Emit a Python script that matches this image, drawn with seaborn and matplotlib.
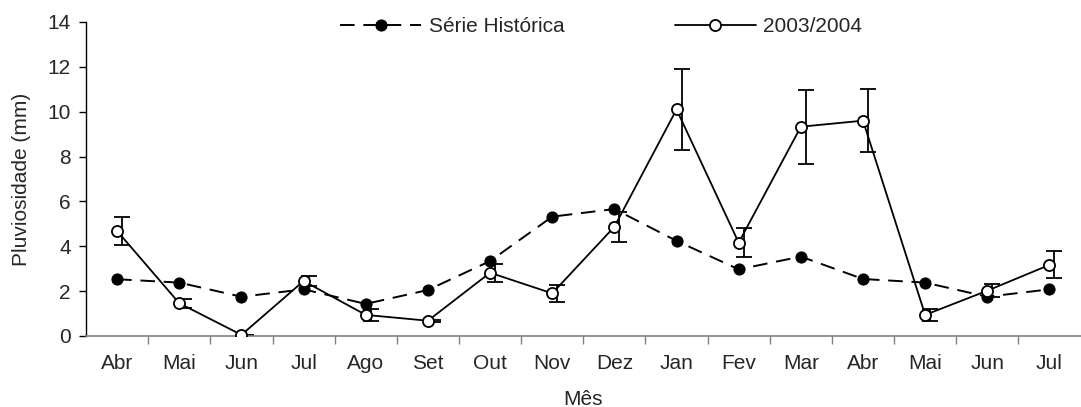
import numpy as np
import pandas as pd
import matplotlib
matplotlib.use("Agg")
import matplotlib.pyplot as plt
from matplotlib.ticker import FixedLocator, NullFormatter
import seaborn as sns

months = ["Abr", "Mai", "Jun", "Jul", "Ago", "Set", "Out", "Nov",
          "Dez", "Jan", "Fev", "Mar", "Abr", "Mai", "Jun", "Jul"]
historica = [2.53, 2.38, 1.75, 2.08, 1.43, 2.05, 3.34, 5.32,
             5.66, 4.24, 2.97, 3.54, 2.54, 2.38, 1.75, 2.08]
safra = [4.68, 1.46, 0.05, 2.45, 0.94, 0.68, 2.82, 1.90,
         4.87, 10.10, 4.16, 9.33, 9.60, 0.94, 2.02, 3.17]
safra_err = [0.62, 0.20, 0.0, 0.22, 0.28, 0.05, 0.40, 0.38,
             0.67, 1.82, 0.65, 1.65, 1.40, 0.25, 0.30, 0.60]

sns.set_theme(style="ticks")
plt.rcParams["font.family"] = ["Liberation Sans", "DejaVu Sans"]
FS = 15

pos = np.arange(len(months))
df = pd.DataFrame({"pos": pos, "hist": historica, "safra": safra})

fig = plt.figure(figsize=(10.81, 4.07), dpi=100)
ax = fig.add_axes([0.0796, 0.1745, 0.92, 0.7715])

ax.errorbar(pos + 0.08, safra, yerr=safra_err, fmt="none", ecolor="black",
            elinewidth=1.3, capsize=5.5, capthick=1.3, zorder=2)

sns.lineplot(data=df, x="pos", y="hist", ax=ax, color="black", lw=1.4,
             marker="o", markersize=8, markerfacecolor="black",
             markeredgecolor="black", zorder=3, label="Série Histórica")
ax.lines[-1].set_dashes([7.5, 4.5])
sns.lineplot(data=df, x="pos", y="safra", ax=ax, color="black", lw=1.3,
             marker="o", markersize=8, markerfacecolor="white",
             markeredgecolor="black", markeredgewidth=1.3, zorder=4,
             label="2003/2004")

ax.set_xlim(-0.5, len(months) - 0.5)
ax.set_ylim(0, 14)
ax.set_yticks(np.arange(0, 15, 2))
ax.xaxis.set_major_locator(FixedLocator(np.arange(0.5, len(months) - 0.5, 1)))
ax.xaxis.set_major_formatter(NullFormatter())
ax.xaxis.set_minor_locator(FixedLocator(pos))
ax.set_xticklabels(months, minor=True)
ax.tick_params(axis="x", which="major", length=6, width=1, color="#808080")
ax.tick_params(axis="x", which="minor", length=0, pad=13, labelsize=FS)
ax.tick_params(axis="y", length=5, width=1, labelsize=FS, color="black", pad=6)

ax.set_xlabel("Mês", fontsize=FS, labelpad=12)
ax.set_ylabel("Pluviosidade (mm)", fontsize=FS, labelpad=12)

sns.despine(ax=ax)
ax.spines["left"].set_color("black")
ax.spines["left"].set_linewidth(1.0)
ax.spines["bottom"].set_color("#808080")
ax.spines["bottom"].set_linewidth(1.2)

ax.legend(loc="upper center", bbox_to_anchor=(0.518, 1.075), ncol=2,
          frameon=False, fontsize=FS, handlelength=3.9, columnspacing=5.3,
          handletextpad=0.35)

fig.savefig("out.png", dpi=100)
